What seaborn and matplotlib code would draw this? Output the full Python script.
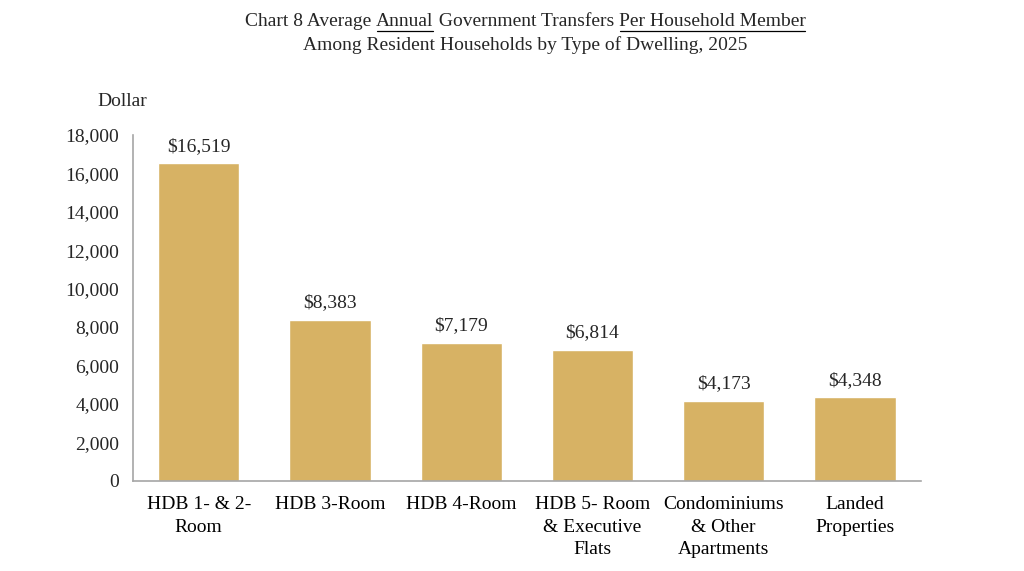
import matplotlib
matplotlib.use("Agg")
import matplotlib.pyplot as plt
import numpy as np
import pandas as pd
import seaborn as sns
from matplotlib.ticker import FuncFormatter, FixedLocator

dwelling = [
    "HDB 1- & 2-\nRoom",
    "HDB 3-Room",
    "HDB 4-Room",
    "HDB 5- Room\n& Executive\nFlats",
    "Condominiums\n& Other\nApartments",
    "Landed\nProperties",
]
transfers = [16519, 8383, 7179, 6814, 4173, 4348]
y_ticks = [0, 2000, 4000, 6000, 8000, 10000, 12000, 14000, 16000, 18000]

title_parts = [
    ("Chart 8 Average ", False),
    ("Annual", True),
    (" Government Transfers ", False),
    ("Per Household Member", True),
]
title_line2 = "Among Resident Households by Type of Dwelling, 2025"

df = pd.DataFrame({"Dwelling": dwelling, "Value": transfers})

sns.set_style("white")
plt.rcParams["font.family"] = ["Liberation Serif", "DejaVu Serif"]
plt.rcParams["font.size"] = 14

fig = plt.figure(figsize=(10.24, 5.71), dpi=100)
ax = fig.add_axes([0.130, 0.158, 0.769, 0.606])

bar_color = "#D7B264"
sns.barplot(data=df, x="Dwelling", y="Value", color=bar_color, width=0.62,
            saturation=1, ax=ax)

ax.set_ylim(0, 18000)
ax.set_xlim(-0.5, len(dwelling) - 0.5)
ax.set_yticks(y_ticks)
ax.yaxis.set_major_formatter(FuncFormatter(lambda v, p: f"{int(v):,}"))
ax.set_xlabel("")
ax.set_ylabel("")

# category boundary ticks on x
ax.xaxis.set_minor_locator(FixedLocator(np.arange(-0.5, len(dwelling), 1.0)))
ax.tick_params(axis="x", which="major", length=0, pad=11, labelsize=14,
               colors="#000000")
ax.tick_params(axis="x", which="minor", length=6, width=1, color="#A6A6A6",
               direction="out")
ax.tick_params(axis="y", length=6, width=1, color="#A6A6A6", direction="out",
               labelsize=14, pad=4)
ax.set_xticks(range(len(dwelling)))
ax.set_xticklabels(dwelling, linespacing=1.42)

for side in ["top", "right"]:
    ax.spines[side].set_visible(False)
for side in ["left", "bottom"]:
    ax.spines[side].set_color("#A6A6A6")
    ax.spines[side].set_linewidth(1.2)

for i, v in enumerate(transfers):
    ax.annotate(f"${v:,}", (i, v), xytext=(0, 6), textcoords="offset points",
                ha="center", va="bottom", fontsize=14)

fig.text(0.095, 0.823, "Dollar", fontsize=14, ha="left", va="center")

# title with underlined parts
fig.canvas.draw()
renderer = fig.canvas.get_renderer()
widths = []
for txt, _ in title_parts:
    t = fig.text(0, 0, txt, fontsize=14)
    widths.append(t.get_window_extent(renderer).width)
    t.remove()
total = sum(widths)
fig_w = fig.get_figwidth() * fig.dpi
fig_h = fig.get_figheight() * fig.dpi
x = 0.513 * fig_w - total / 2
y_px = fig_h * (1 - 22 / 571)
for (txt, under), w in zip(title_parts, widths):
    fig.text(x / fig_w, y_px / fig_h, txt, fontsize=14, ha="left",
             va="center")
    if under:
        uy = (y_px - 9) / fig_h
        fig.add_artist(plt.Line2D([(x + 1) / fig_w, (x + w - 1) / fig_w],
                                  [uy, uy], color="black", linewidth=0.9))
    x += w
fig.text(0.513, 1 - 45 / 571, title_line2, fontsize=14, ha="center",
         va="center")

fig.savefig("out.png", dpi=100)
plt.close(fig)
